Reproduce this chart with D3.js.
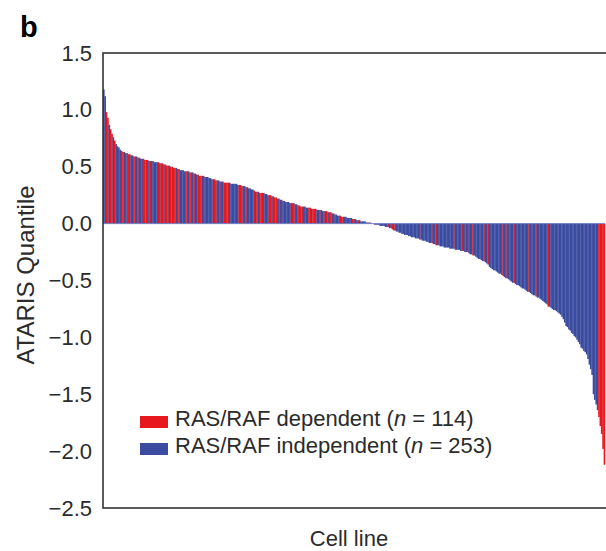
<!DOCTYPE html>
<html lang="en">
<head>
<meta charset="UTF-8">
<title>ATARIS Quantile</title>
<style>
    body { margin: 0; background: #fff; }
    svg { font-family: "Liberation Sans", Arial, sans-serif; }
    .tick text { font-size: 22px; fill: #2b2b2b; }
</style>
</head>
<body>
<svg width="606" height="551"></svg>
<script src="https://cdn.jsdelivr.net/npm/d3@7"></script>
<script>
    // ATARIS quantile per cell line, sorted high to low
    var quantiles = [
        1.18, 1.12, 0.98, 0.93, 0.87, 0.83, 0.79, 0.76, 0.73, 0.70,
        0.68, 0.67, 0.65, 0.64, 0.63, 0.63, 0.62, 0.62, 0.61, 0.61,
        0.60, 0.60, 0.59, 0.59, 0.59, 0.58, 0.58, 0.57, 0.57, 0.57,
        0.56, 0.56, 0.56, 0.55, 0.55, 0.55, 0.55, 0.54, 0.54, 0.54,
        0.54, 0.53, 0.53, 0.53, 0.52, 0.52, 0.51, 0.51, 0.51, 0.50,
        0.50, 0.49, 0.49, 0.49, 0.48, 0.48, 0.47, 0.47, 0.47, 0.46,
        0.46, 0.46, 0.46, 0.45, 0.45, 0.45, 0.44, 0.44, 0.43, 0.43,
        0.42, 0.42, 0.42, 0.42, 0.41, 0.41, 0.41, 0.40, 0.40, 0.39,
        0.39, 0.39, 0.38, 0.38, 0.38, 0.37, 0.37, 0.37, 0.36, 0.36,
        0.36, 0.36, 0.36, 0.35, 0.35, 0.35, 0.35, 0.35, 0.34, 0.34,
        0.34, 0.33, 0.33, 0.33, 0.32, 0.32, 0.31, 0.31, 0.30, 0.30,
        0.29, 0.28, 0.28, 0.28, 0.27, 0.27, 0.27, 0.27, 0.26, 0.26,
        0.25, 0.25, 0.25, 0.24, 0.24, 0.23, 0.23, 0.22, 0.22, 0.21,
        0.21, 0.20, 0.20, 0.19, 0.19, 0.19, 0.18, 0.18, 0.18, 0.18,
        0.17, 0.17, 0.16, 0.16, 0.15, 0.15, 0.15, 0.15, 0.14, 0.14,
        0.14, 0.14, 0.13, 0.13, 0.13, 0.13, 0.12, 0.12, 0.12, 0.12,
        0.11, 0.11, 0.11, 0.11, 0.10, 0.10, 0.10, 0.09, 0.09, 0.08,
        0.08, 0.07, 0.07, 0.07, 0.06, 0.06, 0.06, 0.06, 0.05, 0.05,
        0.05, 0.05, 0.04, 0.04, 0.04, 0.03, 0.03, 0.03, 0.02, 0.02,
        0.02, 0.02, 0.01, 0.01, 0.01, 0.01, 0.00, 0.00, -0.01, -0.01,
        -0.01, -0.01, -0.02, -0.02, -0.02, -0.02, -0.03, -0.03, -0.03, -0.04,
        -0.04, -0.05, -0.06, -0.06, -0.07, -0.07, -0.08, -0.08, -0.09, -0.09,
        -0.10, -0.10, -0.10, -0.11, -0.11, -0.12, -0.12, -0.12, -0.13, -0.13,
        -0.13, -0.14, -0.14, -0.15, -0.15, -0.15, -0.16, -0.16, -0.17, -0.17,
        -0.17, -0.18, -0.18, -0.19, -0.19, -0.19, -0.20, -0.20, -0.20, -0.21,
        -0.21, -0.21, -0.21, -0.22, -0.22, -0.22, -0.22, -0.23, -0.23, -0.23,
        -0.23, -0.24, -0.24, -0.24, -0.25, -0.25, -0.25, -0.26, -0.27, -0.27,
        -0.28, -0.28, -0.29, -0.30, -0.31, -0.31, -0.32, -0.33, -0.33, -0.34,
        -0.35, -0.36, -0.38, -0.39, -0.40, -0.41, -0.41, -0.42, -0.43, -0.44,
        -0.44, -0.45, -0.46, -0.47, -0.48, -0.48, -0.49, -0.50, -0.51, -0.52,
        -0.52, -0.53, -0.54, -0.54, -0.55, -0.56, -0.57, -0.57, -0.58, -0.59,
        -0.60, -0.60, -0.61, -0.62, -0.63, -0.63, -0.64, -0.65, -0.65, -0.66,
        -0.67, -0.68, -0.69, -0.70, -0.71, -0.73, -0.73, -0.74, -0.75, -0.76,
        -0.76, -0.77, -0.78, -0.79, -0.80, -0.82, -0.84, -0.87, -0.90, -0.91,
        -0.93, -0.94, -0.96, -0.97, -0.99, -1.00, -1.02, -1.04, -1.06, -1.09,
        -1.10, -1.12, -1.13, -1.15, -1.19, -1.24, -1.28, -1.33, -1.50, -1.55,
        -1.59, -1.64, -1.70, -1.78, -1.85, -1.98, -2.12
    ];

    // r = RAS/RAF dependent, b = independent; one string per 10 cell lines
    var dependence = [
        "bbrrbrrbrb", "bbbrrbrbrr", "bbrrbrbbbr", "rrrbrbbbbb", "rbrrbrrrbr",
        "rrrbrrbbbb", "rrbrrbrbbr", "rrbrbbbbbr", "brbrbbrbrr", "rrbbbbbbbr",
        "rbrbrbbbbb", "rbrbrrrbbb", "brrbrrrrbb", "rbbbbbrbrb", "rbrrrrbbbb",
        "rrbrrrbbrb", "brbrbrrbrb", "bbbrrrbbbb", "bbrbrbrbbb", "bbbbrbrrbr",
        "bbbbbbbbrb", "brbrbbbbbb", "bbbbbbbbbb", "brbbbbbbbb", "brbrbbbbbb",
        "bbbbbbrbbb", "bbrbbbrbbb", "rbbbbbbbrb", "brbbbbbbbb", "bbrbbrbbbb",
        "rbbbbbbbbb", "brbbbbrbbb", "bbbbbrbbbb", "bbbbbbbbbb", "bbbbbbbbbb",
        "bbbbbbbbbb", "bbrrrrr"
    ].join("").split("");

    var yTicks = [1.5, 1.0, 0.5, 0.0, -0.5, -1.0, -1.5, -2.0, -2.5];
    var legendLabels = [
        {key: "r", text: "RAS/RAF dependent (", n: "114"},
        {key: "b", text: "RAS/RAF independent (", n: "253"}
    ];
    var colors = {r: "#e8191e", b: "#3a4ba0"};

    var svg = d3.select("svg");
    var margin = {top: 53, right: 1, bottom: 43, left: 103};
    var width = +svg.attr("width") - margin.left - margin.right;
    var height = +svg.attr("height") - margin.top - margin.bottom;

    var x = d3.scaleBand()
        .domain(d3.range(quantiles.length))
        .range([margin.left, margin.left + width])
        .padding(0);

    var y = d3.scaleLinear()
        .domain([-2.5, 1.5])
        .range([margin.top + height, margin.top]);

    var bars = quantiles.map((v, i) => ({i: i, v: v, dep: dependence[i]}));

    svg.append("g")
        .selectAll("rect")
        .data(bars)
        .enter().append("rect")
        .attr("x", d => x(d.i))
        .attr("width", x.bandwidth() + 0.25)
        .attr("y", d => y(Math.max(0, d.v)))
        .attr("height", d => Math.abs(y(d.v) - y(0)))
        .attr("fill", d => colors[d.dep]);

    // baseline at zero
    svg.append("line")
        .attr("x1", margin.left).attr("x2", margin.left + width)
        .attr("y1", y(0)).attr("y2", y(0))
        .attr("stroke", "#7080c4").attr("stroke-width", 1);

    // frame, right side runs off the picture
    svg.append("rect")
        .attr("x", margin.left).attr("y", margin.top)
        .attr("width", width + 6).attr("height", height)
        .attr("fill", "none")
        .attr("stroke", "#333").attr("stroke-width", 1.6);

    var yAxis = svg.append("g")
        .attr("transform", `translate(${margin.left}, 0)`)
        .call(d3.axisLeft(y).tickValues(yTicks).tickSize(0).tickPadding(11)
            .tickFormat(d3.format(".1f")));
    yAxis.select(".domain").remove();

    svg.append("text")
        .attr("transform", "translate(34, 275) rotate(-90)")
        .attr("text-anchor", "middle")
        .style("font-size", "24px")
        .style("fill", "#2b2b2b")
        .text("ATARIS Quantile");

    svg.append("text")
        .attr("x", 349).attr("y", 546)
        .attr("text-anchor", "middle")
        .style("font-size", "22px")
        .style("fill", "#2b2b2b")
        .text("Cell line");

    svg.append("text")
        .attr("x", 20).attr("y", 37)
        .style("font-size", "29px")
        .style("font-weight", "bold")
        .text("b");

    var legend = svg.append("g").selectAll("g")
        .data(legendLabels)
        .enter().append("g")
        .attr("transform", (d, i) => `translate(140, ${416 + i * 27})`);

    legend.append("rect")
        .attr("width", 28).attr("height", 12)
        .attr("fill", d => colors[d.key]);

    var lt = legend.append("text")
        .attr("x", 35).attr("y", 10)
        .style("font-size", "22px")
        .style("fill", "#2b2b2b");
    lt.append("tspan").text(d => d.text);
    lt.append("tspan").style("font-style", "italic").text("n");
    lt.append("tspan").text(d => " = " + d.n + ")");
</script>
</body>
</html>
